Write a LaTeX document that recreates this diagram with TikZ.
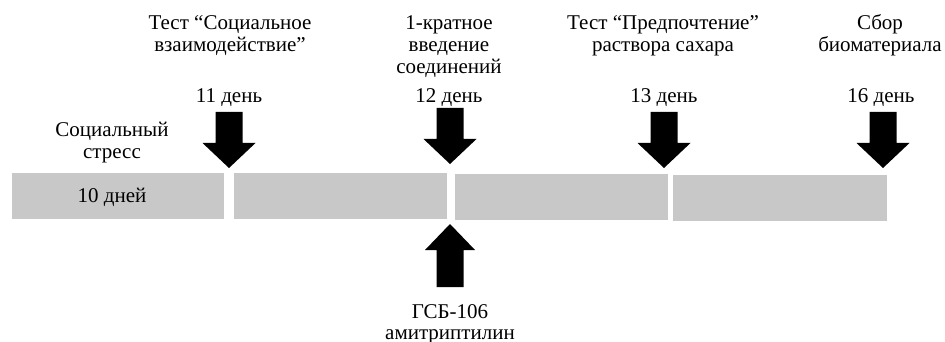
\documentclass[tikz,border=0pt]{standalone}
\usepackage{fontspec}
\setmainfont{Liberation Serif}
\begin{document}
\begin{tikzpicture}[x=1pt,y=-1pt,
  lbl/.style={anchor=base,inner sep=0pt,font=\fontsize{21}{22}\selectfont},
  bar/.style={fill=barcol,draw=none},
  blockarrow/.style={fill=black,draw=none}]
\definecolor{barcol}{RGB}{200,200,200}
\useasboundingbox (0,0) rectangle (945,342);
% bars
\fill[bar] (12,173) rectangle (224,219);
\fill[bar] (234,173) rectangle (447,219);
\fill[bar] (455,174) rectangle (668,220);
\fill[bar] (673,175) rectangle (887,221);
% down arrows
\foreach \cx/\top in {229/112, 450/108, 664/112, 883/112}{
  \fill[blockarrow] (\cx-13.5,\top) -- (\cx+13.5,\top) -- (\cx+13.5,\top+31)
     -- (\cx+26.5,\top+31) -- (\cx,\top+56) -- (\cx-26.5,\top+31)
     -- (\cx-13.5,\top+31) -- cycle;
}
% up arrow
\fill[blockarrow] (450,224) -- (475,250) -- (463.5,250) -- (463.5,287)
   -- (436.5,287) -- (436.5,250) -- (425,250) -- cycle;
% labels
\node[lbl] (t1a) at (230,30) {Тест “Социальное};
\node[lbl] (t1b) at (230,52) {взаимодействие”};
\node[lbl] (d11) at (229,103) {11 день};
\node[lbl] (s1) at (112,137) {Социальный};
\node[lbl] (s2) at (112,159) {стресс};
\node[lbl] (d10) at (112,202) {10 дней};
\node[lbl] (t2a) at (449,30) {1-кратное};
\node[lbl] (t2b) at (449,52) {введение};
\node[lbl] (t2c) at (449,74) {соединений};
\node[lbl] (d12) at (449,103) {12 день};
\node[lbl] (g1) at (450,318) {ГСБ-106};
\node[lbl] (g2) at (450,339.5) {амитриптилин};
\node[lbl] (t3a) at (663,30) {Тест “Предпочтение”};
\node[lbl] (t3b) at (663,52) {раствора сахара};
\node[lbl] (d13) at (664,103) {13 день};
\node[lbl] (t4a) at (880,30) {Сбор};
\node[lbl] (t4b) at (880,52) {биоматериала};
\node[lbl] (d16) at (881,103) {16 день};
\end{tikzpicture}
\end{document}
